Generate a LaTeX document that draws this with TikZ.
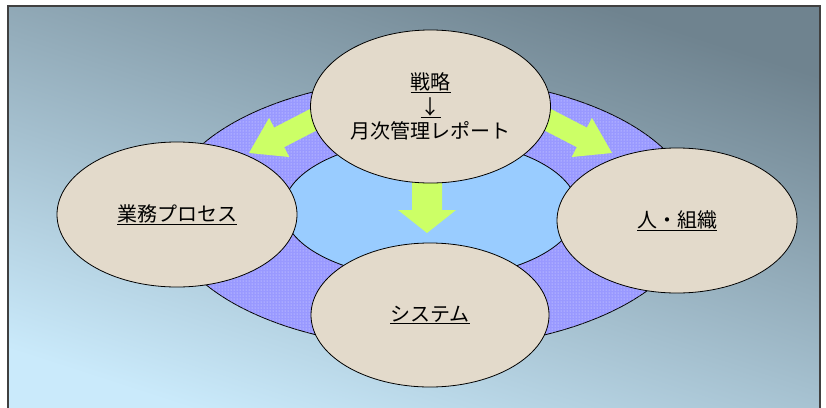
\documentclass[tikz,border=0pt]{standalone}
\usepackage{fontspec}
\newfontfamily\jp{Noto Sans CJK JP}
\usetikzlibrary{shapes.geometric,patterns}
\definecolor{bgdark}{HTML}{6F838F}
\definecolor{bglight}{HTML}{CAEAFB}
\definecolor{ringc}{HTML}{9999FF}
\definecolor{innerc}{HTML}{99CCFF}
\definecolor{beige}{HTML}{E3DACB}
\definecolor{arrowc}{HTML}{CCFF66}
\tikzset{
  bubble/.style={ellipse, draw=black, line width=0.8pt, fill=beige, inner sep=0pt,
    font=\jp\fontsize{20}{24.5}\selectfont, align=center},
  ringstyle/.style={ellipse, draw=black, line width=0.8pt, fill=ringc, inner sep=0pt,
    postaction={pattern=dots, pattern color=white!75!ringc}},
  innerstyle/.style={ellipse, draw=black, line width=0.8pt, fill=innerc, inner sep=0pt},
  blockarrow/.style={fill=arrowc, draw=none}
}
\begin{document}
\begin{tikzpicture}[x=1pt,y=-1pt]
\useasboundingbox (0,0) rectangle (826,407);
\begin{scope}
\clip (0,0) rectangle (826,407);
\shade[top color=bgdark, bottom color=bglight, shading angle=-18] (8,6) rectangle (820,420);
\draw[line width=1.2pt, color=black!75] (8,420) -- (8,6) -- (820,6) -- (820,420);
\end{scope}
% ring and inner field
\node[ringstyle, minimum width=530pt, minimum height=270pt] (ring) at (430.5,213) {};
\node[innerstyle, minimum width=294pt, minimum height=140pt] (inner) at (430.5,209) {};
% arrows
\fill[blockarrow] (249,153) -- (289.3,157) -- (284.2,147.2) -- (328.6,124.2) -- (318.6,104.6) -- (274.1,127.6) -- (269.1,117.9) -- cycle;
\fill[blockarrow] (612,153) -- (571.7,157) -- (576.8,147.2) -- (532.4,124.2) -- (542.4,104.6) -- (586.9,127.6) -- (591.9,117.9) -- cycle;
\fill[blockarrow] (412,175) -- (442,175) -- (442,210) -- (456,210) -- (427,233) -- (398,210) -- (412,210) -- cycle;
% bubbles
\node[bubble, minimum width=240pt, minimum height=153pt] (strategy) at (430.5,106.5)
  {\underline{戦略}\\\underline{↓}\\月次管理レポート};
\node[bubble, minimum width=240pt, minimum height=145pt] (process) at (177,214.5) {\underline{業務プロセス}};
\node[bubble, minimum width=240pt, minimum height=145pt] (people) at (677,220.5) {\underline{人・組織}};
\node[bubble, minimum width=238pt, minimum height=144pt] (system) at (430,315) {\underline{システム}};
\end{tikzpicture}
\end{document}
